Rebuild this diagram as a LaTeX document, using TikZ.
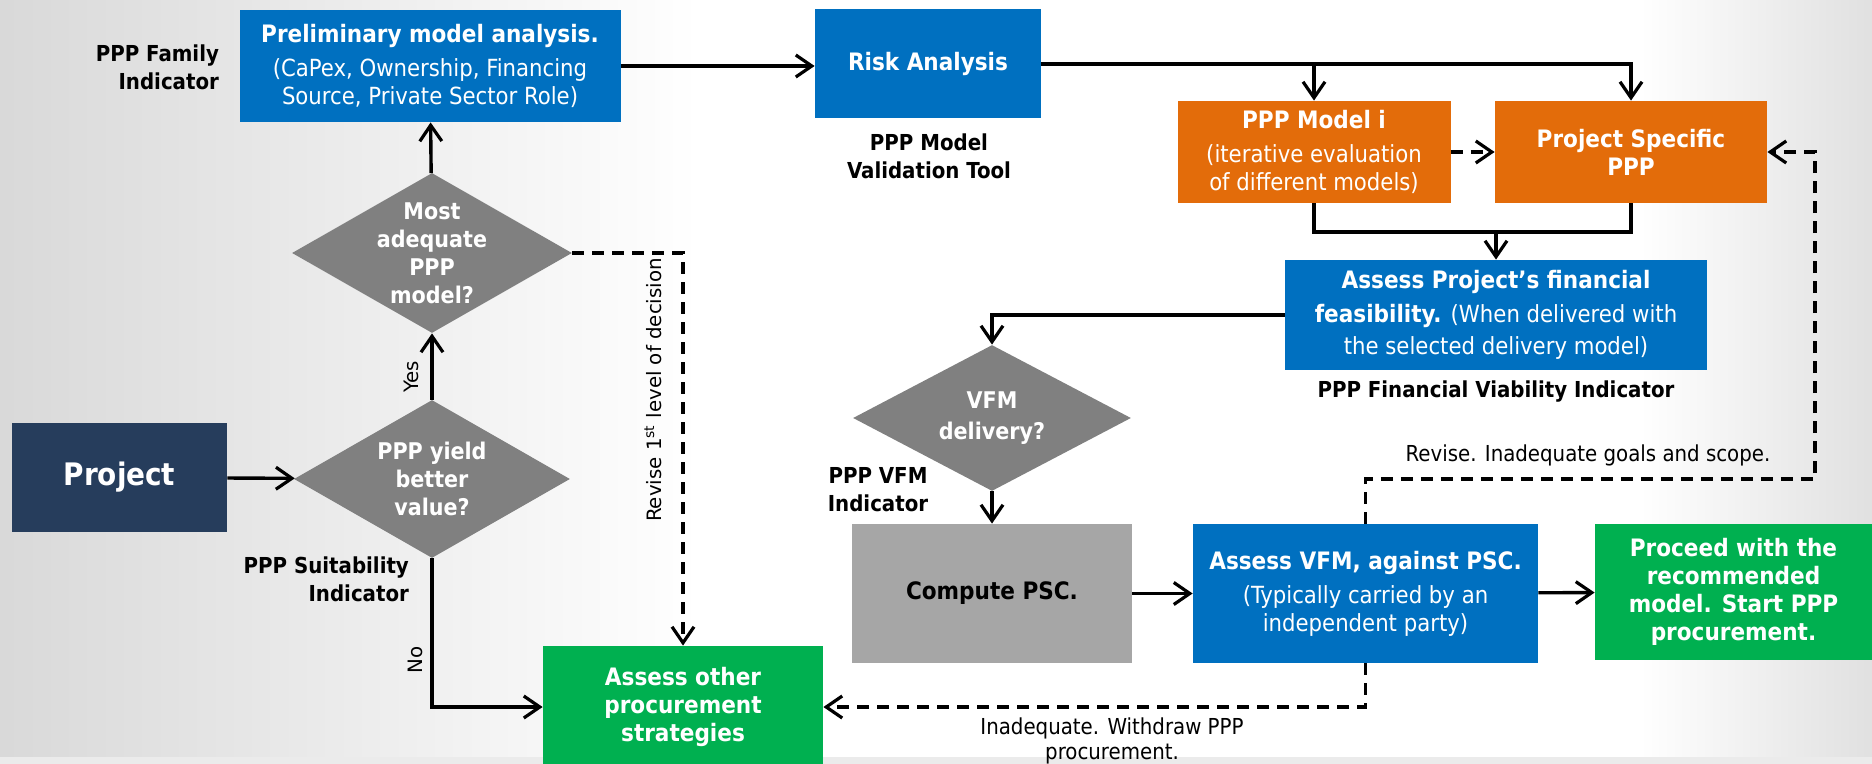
\documentclass[tikz,border=0pt]{standalone}
\usepackage{fontspec}
\setmainfont{DejaVu Sans Condensed}
\newfontfamily\revfont{DejaVu Sans}
\usetikzlibrary{arrows.meta,positioning,shapes.geometric}
\definecolor{boxblue}{HTML}{0070C0}
\definecolor{boxorange}{HTML}{E36C0A}
\definecolor{boxgreen}{HTML}{00B050}
\definecolor{boxnavy}{HTML}{263D5C}
\definecolor{diagray}{HTML}{808080}
\definecolor{pscgray}{HTML}{A6A6A6}
\newcommand{\ttl}[1]{{\bfseries\fontsize{12}{16}\selectfont #1}}
\tikzset{>={Straight Barb[length=8pt,width=11pt,line width=1.6pt]}}
\tikzset{
  box/.style={text=white, align=center, inner sep=2pt,
    font=\fontsize{11.8}{14}\selectfont},
  decision/.style={diamond, fill=diagray, text=white, align=center,
    inner sep=-3pt, font=\bfseries\fontsize{11.5}{14}\selectfont},
  note/.style={align=center, font=\bfseries\fontsize{11}{14}\selectfont},
  edgetext/.style={align=center, font=\fontsize{11}{12.5}\selectfont},
  sidetext/.style={rotate=90, font=\revfont\fontsize{9.9}{11}\selectfont},
  flow/.style={line width=1.7pt},
  back/.style={line width=1.7pt, dash pattern=on 6pt off 4pt},
}

\begin{document}
\begin{tikzpicture}[x=0.5pt,y=-0.5pt]
  \useasboundingbox (0,0) rectangle (1872,764);
  % background
  \shade[left color=black!15, right color=white] (0,0) rectangle (700,764);
  \shade[left color=white, right color=black!12] (1640,0) rectangle (1872,764);
  \fill[black!8] (0,757) rectangle (1872,764);

  % boxes
  \node[box, fill=boxblue, minimum width=190.5pt, minimum height=56pt] (prelim) at (430,66)
    {\ttl{Preliminary model analysis.}\\[3pt](CaPex, Ownership, Financing\\Source, Private Sector Role)};
  \node[box, fill=boxblue, minimum width=113pt, minimum height=54.5pt] (risk) at (928,64)
    {\ttl{Risk Analysis}};
  \node[box, fill=boxorange, minimum width=136.5pt, minimum height=51pt] (modeli) at (1314,152)
    {\ttl{PPP Model i}\\[3pt](iterative evaluation\\of different models)};
  \node[box, fill=boxorange, minimum width=136pt, minimum height=51pt] (specific) at (1631,152)
    {\ttl{Project Specific}\\\ttl{PPP}};
  \node[box, fill=boxblue, minimum width=211pt, minimum height=55pt] (feasib) at (1496,315)
    {\ttl{Assess Project’s financial}\\[3pt]\ttl{feasibility.} (When delivered with\\[2pt]the selected delivery model)};
  \node[box, fill=boxnavy, minimum width=107.5pt, minimum height=54.5pt,
    font=\bfseries\fontsize{15.5}{20}\selectfont] (project) at (119.5,477.5) {Project};
  \node[box, fill=boxgreen, minimum width=140pt, minimum height=61pt] (other) at (683,707)
    {\ttl{Assess other}\\\ttl{procurement}\\\ttl{strategies}};
  \node[box, fill=pscgray, text=black, minimum width=140pt, minimum height=69.5pt] (psc) at (992,593.5)
    {\ttl{Compute PSC.}};
  \node[box, fill=boxblue, minimum width=172.5pt, minimum height=69.5pt] (avfm) at (1365.5,593.5)
    {\ttl{Assess VFM, against PSC.}\\[3pt](Typically carried by an\\independent party)};
  \node[box, fill=boxgreen, minimum width=138.5pt, minimum height=68pt] (proceed) at (1733.5,592)
    {\ttl{Proceed with the}\\\ttl{recommended}\\\ttl{model. Start PPP}\\\ttl{procurement.}};

  % decisions
  \node[decision, minimum width=140pt, minimum height=80pt, aspect=1.75] (adequate) at (432,253)
    {Most\\adequate\\PPP\\model?};
  \node[decision, minimum width=138pt, minimum height=79pt, aspect=1.75] (yield) at (432,479)
    {PPP yield\\better\\value?};
  \node[decision, minimum width=139pt, minimum height=73pt, aspect=1.9,
    font=\bfseries\fontsize{11.5}{15.5}\selectfont] (vfm) at (992,418)
    {VFM\\delivery?};

  % indicators
  \node[note, anchor=east, align=right] (famlbl) at (226,67) {PPP Family\\Indicator};
  \node[note] (vallbl) at (929,156) {PPP Model\\Validation Tool};
  \node[note] (viablbl) at (1496,392) {PPP Financial Viability Indicator};
  \node[note, anchor=east, align=right] (suitlbl) at (416,579) {PPP Suitability\\Indicator};
  \node[note] (vfmlbl) at (878,490) {PPP VFM\\Indicator};

  % connectors
  \coordinate (join) at (1496,232);
  \coordinate (revise) at (1815,479);
  \draw[flow,->] (project) -- (yield);
  \draw[flow,->] (yield) -- (adequate);
  \draw[flow,->] (adequate) -- (prelim);
  \draw[flow,->] (prelim.east) -- (prelim.east -| risk.west);
  \draw[flow,->] (risk.east) -| (specific.north);
  \draw[flow,->] (risk.east -| modeli.north) -- (modeli.north);
  \draw[back,->] (modeli) -- (specific);
  \draw[flow] (modeli.south) |- (join) -| (specific.south);
  \draw[flow,->] (join) -- (feasib.north);
  \draw[flow,->] (feasib.west) -| (vfm.north);
  \draw[flow,->] (vfm) -- (psc);
  \draw[flow,->] (psc) -- (avfm);
  \draw[flow,->] (avfm) -- (proceed);
  \draw[flow,->] (yield.south) |- (other.west);
  \draw[back,->] (adequate.east) -| (other.north);
  \draw[back,->] (avfm.north) |- (revise) |- (specific.east);
  \draw[back,->] (avfm.south) |- (other.east);

  % connector labels
  \node[sidetext] (yeslbl) at (411,377) {Yes};
  \node[sidetext] (nolbl) at (415,660) {No};
  \node[sidetext] (revlbl) at (653,390) {Revise 1\textsuperscript{st} level of decision};
  \node[edgetext] (scopelbl) at (1588,455) {Revise. Inadequate goals and scope.};
  \node[edgetext] (withdrawlbl) at (1112,741) {Inadequate. Withdraw PPP\\procurement.};
\end{tikzpicture}
\end{document}
